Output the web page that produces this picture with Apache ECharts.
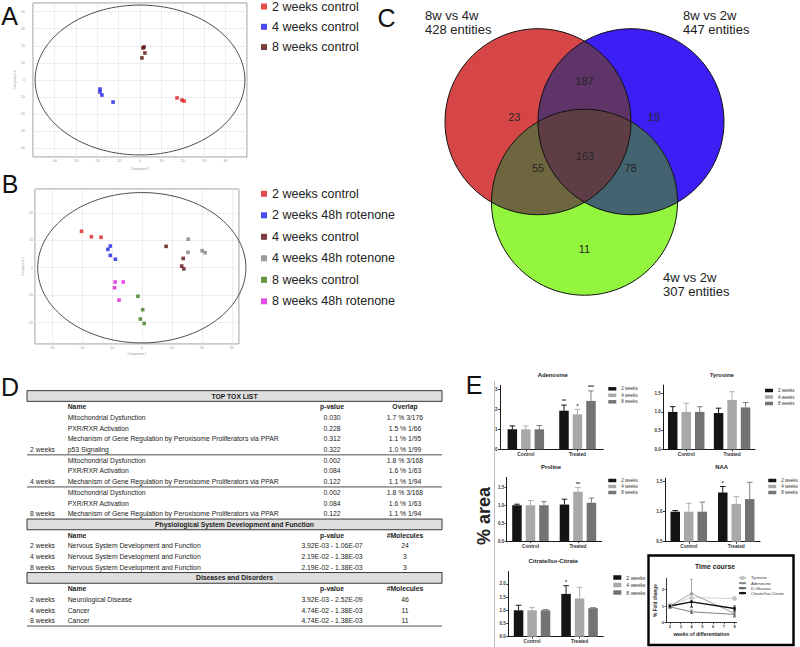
<!DOCTYPE html>
<html>
<head>
<meta charset="utf-8">
<script src="https://cdn.jsdelivr.net/npm/echarts@6/dist/echarts.min.js"></script>
<style>
html,body{margin:0;padding:0;background:#fff;}
#chart{width:800px;height:647px;}
</style>
</head>
<body>
<div id="chart"></div>
<script>
// ======================= DATA =======================
// Panel A – PCA, controls
const pcaA_groups = ['2 weeks control', '4 weeks control', '8 weeks control'];
const pcaA_2wControl = [[17.3, -10.5], [19.6, -11.7], [20.6, -12.3]];
const pcaA_4wControl = [[-18.7, -5.3], [-18.7, -7.0], [-17.8, -8.8], [-12.6, -12.9]];
const pcaA_8wControl = [[1.9, 19.3], [1.4, 18.7], [2.3, 15.8], [0.9, 12.9]];
const pcaA_ellipse = [[0, 0, 49, 43.8]];          // centre x, centre y, semi-axis x, semi-axis y

// Panel B – PCA, controls + rotenone
const pcaB_groups = ['2 weeks control', '2 weeks 48h rotenone', '4 weeks control',
                     '4 weeks 48h rotenone', '8 weeks control', '8 weeks 48h rotenone'];
const pcaB_2wControl  = [[-20.1, 13.3], [-16.8, 11.3], [-13.6, 11.1]];
const pcaB_2wRotenone = [[-10.5, 7.9], [-11.3, 6.7], [-10.5, 4.5], [-8.8, 3.1]];
const pcaB_4wControl  = [[8.1, 7.8], [13.8, 3.4], [13.3, 0.6], [14.0, -0.4]];
const pcaB_4wRotenone = [[15.5, 10.4], [15.4, 5.6], [20.1, 6.2], [21.1, 5.5]];
const pcaB_8wControl  = [[-1.3, -10.4], [0.3, -15.3], [-0.5, -18.7], [0.8, -20.3]];
const pcaB_8wRotenone = [[-8.9, -5.2], [-6.2, -5.2], [-9.1, -7.3], [-7.6, -11.8]];
const pcaB_ellipse = [[0, 0, 34.7, 27.4]];

// Panel C – Venn
const vennSetNames = ['8w vs 4w', '8w vs 2w', '4w vs 2w'];
const vennSetTotals = [428, 447, 307];
const vennRegions = ['A', 'B', 'C', 'AB', 'AC', 'BC', 'ABC'];
const vennCounts = [23, 19, 11, 187, 55, 78, 163];

// Panel D – tables
const toxGroups = ['2 weeks', '4 weeks', '8 weeks'];
const toxNames = [
  ['Mitochondrial Dysfunction', 'PXR/RXR Activation', 'Mechanism of Gene Regulation by Peroxisome Proliferators via PPAR', 'p53 Signaling'],
  ['Mitochondrial Dysfunction', 'PXR/RXR Activation', 'Mechanism of Gene Regulation by Peroxisome Proliferators via PPAR'],
  ['Mitochondrial Dysfunction', 'PXR/RXR Activation', 'Mechanism of Gene Regulation by Peroxisome Proliferators via PPAR']
];
const toxPValues = [['0.030', '0.228', '0.312', '0.322'], ['0.002', '0.084', '0.122'], ['0.002', '0.084', '0.122']];
const toxOverlap = [['1.7 % 3/176', '1.5 % 1/66', '1.1 % 1/95', '1.0 % 1/99'],
                    ['1.8 % 3/168', '1.6 % 1/63', '1.1 % 1/94'],
                    ['1.8 % 3/168', '1.6 % 1/63', '1.1 % 1/94']];
const physGroups = ['2 weeks', '4 weeks', '8 weeks'];
const physNames = ['Nervous System Development and Function', 'Nervous System Development and Function', 'Nervous System Development and Function'];
const physPValues = ['3.92E-03 - 1.06E-07', '2.19E-02 - 1.38E-03', '2.19E-02 - 1.38E-03'];
const physMolecules = ['24', '3', '3'];
const disGroups = ['2 weeks', '4 weeks', '8 weeks'];
const disNames = ['Neurological Disease', 'Cancer', 'Cancer'];
const disPValues = ['3.92E-03 - 2.52E-09', '4.74E-02 - 1.38E-03', '4.74E-02 - 1.38E-03'];
const disMolecules = ['46', '11', '11'];

// Panel E – bar charts (rows = 2 / 4 / 8 weeks, columns = Control / Treated)
const barCategories = ['Control', 'Treated'];
const barGroups = ['2 weeks', '4 weeks', '8 weeks'];
const adenosineMean = [[1.00, 1.93], [1.00, 1.75], [1.00, 2.42]];
const adenosineSem  = [[0.17, 0.28], [0.17, 0.25], [0.19, 0.50]];
const adenosineSig  = [['', '**'], ['', '*'], ['', '***']];
const adenosineTicks = [0, 1, 2, 3];
const tyrosineMean = [[1.00, 0.97], [1.00, 1.32], [1.00, 1.12]];
const tyrosineSem  = [[0.14, 0.13], [0.23, 0.22], [0.14, 0.13]];
const tyrosineSig  = [['', ''], ['', ''], ['', '']];
const tyrosineTicks = [0, 0.5, 1, 1.5];
const prolineMean = [[1.00, 1.02], [1.00, 1.38], [1.00, 1.07]];
const prolineSem  = [[0.03, 0.15], [0.13, 0.12], [0.10, 0.13]];
const prolineSig  = [['', ''], ['', '**'], ['', '']];
const prolineTicks = [0, 0.5, 1, 1.5];
const naaMean = [[1.00, 1.32], [1.00, 1.13], [1.00, 1.21]];
const naaSem  = [[0.02, 0.10], [0.14, 0.12], [0.16, 0.28]];
const naaSig  = [['', '*'], ['', ''], ['', '']];
const naaTicks = [0.5, 1, 1.5];
const citrateMean = [[1.00, 1.62], [1.00, 1.45], [1.00, 1.08]];
const citrateSem  = [[0.19, 0.31], [0.10, 0.42], [0.03, 0.02]];
const citrateSig  = [['', '*'], ['', ''], ['', '']];
const citrateTicks = [0, 0.5, 1, 1.5, 2];

// Time course
const tcWeeks = [2, 4, 8];
const tcWeekTicks = [2, 3, 4, 5, 6, 7, 8];
const tcFoldTicks = [0, 1, 2];
const tcSeriesNames = ['Tyrosine', 'Adenosine', 'D-Glucose', 'Citrate/Iso-Citrate'];
const tcTyrosine = [1.05, 1.50, 1.45];
const tcTyrosineErr = [0.08, 0.20, 0.10];
const tcAdenosine = [1.00, 1.75, 0.55];
const tcAdenosineErr = [0.10, 0.85, 0.20];
const tcGlucose = [0.95, 0.65, 0.50];
const tcGlucoseErr = [0.08, 0.10, 0.15];
const tcCitrate = [1.00, 1.25, 0.85];
const tcCitrateErr = [0.10, 0.30, 0.15];

// ======================= LAYOUT / STYLE =======================
const FONT = "'Liberation Sans', Arial, Helvetica, sans-serif";
const PCA_A_COLORS = ['#e01e1e', '#1e1ee6', '#5a0c0c'];
const PCA_B_COLORS = ['#e01e1e', '#1e1ee6', '#5a0c0c', '#808080', '#3e7a1e', '#e01ee0'];
const VENN_CENTERS = [[-0.5, 0], [0.5, 0], [0, -0.866]];
const VENN_R = 1;
const VENN_COLORS = ['#d64646', '#3b1ff5', '#94f53f', '#5f3469', '#6e663f', '#42636f', '#5e3d45'];
const VENN_LABEL_POS = [[-0.755, 0.054], [0.747, 0.054], [0, -1.37], [0, 0.44], [-0.5, -0.5], [0.495, -0.5], [0.005, -0.366]];
const BAR_COLORS = ['#141414', '#a8a8a8', '#737373'];
const BAR_W = 9.5, BAR_GAP = 0.42;
const TC_COLORS = ['#c4c4c4', '#8c8c8c', '#606060', '#111111'];
const TC_SYMBOLS = ['emptyCircle', 'circle', 'triangle', 'rect'];

// ======================= HELPERS =======================
function gtext(x, y, text, o) {
  o = o || {};
  const align = o.align || 'left', valign = o.valign || 'middle';
  return {
    type: 'text', x: x, y: y, rotation: o.rotation || 0, silent: true, z: 50,
    style: {
      text: text, fill: o.color || '#222', fontSize: o.size || 7,
      fontWeight: o.bold ? 'bold' : 'normal', fontFamily: FONT,
      align: align, verticalAlign: valign, textAlign: align, textVerticalAlign: valign
    }
  };
}
function gline(x1, y1, x2, y2, color, w) {
  return { type: 'line', silent: true, z: 50, shape: { x1: x1, y1: y1, x2: x2, y2: y2 },
           style: { stroke: color || '#000', lineWidth: w || 0.8 } };
}

function ellipseSeries(ax, data) {
  return {
    type: 'custom', xAxisIndex: ax, yAxisIndex: ax, data: data, silent: true, z: 1,
    renderItem: function (p, api) {
      const c = api.coord([api.value(0), api.value(1)]);
      const s = api.size([api.value(2), api.value(3)]);
      const pts = [];
      for (let i = 0; i < 160; i++) {
        const a = i / 160 * Math.PI * 2;
        pts.push([c[0] + s[0] * Math.cos(a), c[1] + s[1] * Math.sin(a)]);
      }
      return { type: 'polygon', shape: { points: pts }, style: { fill: 'none', stroke: '#3a3a3a', lineWidth: 0.9 } };
    }
  };
}
function pcaAxis(gridIndex, isX, min, max, extra) {
  return Object.assign({
    type: 'value', gridIndex: gridIndex, min: min, max: max,
    axisLine: { show: false }, axisTick: { show: false },
    splitLine: { show: true, lineStyle: { color: '#e2e2e2', width: 0.6 } },
    axisLabel: { fontSize: 3.5, color: '#999', margin: 2, showMinLabel: false, showMaxLabel: false },
    nameLocation: 'middle', nameTextStyle: { fontSize: 3.2, color: '#999' }
  }, extra || {});
}

// circle geometry for the Venn diagram (pixel space)
function circleInter(c1, c2, r) {
  const dx = c2[0] - c1[0], dy = c2[1] - c1[1];
  const d = Math.hypot(dx, dy), a = d / 2;
  const h = Math.sqrt(Math.max(r * r - a * a, 0));
  const mx = c1[0] + dx / 2, my = c1[1] + dy / 2, ux = -dy / d, uy = dx / d;
  return [[mx + h * ux, my + h * uy], [mx - h * ux, my - h * uy]];
}
function arcPts(c, r, p, q, n) {
  const a0 = Math.atan2(p[1] - c[1], p[0] - c[0]);
  let d = Math.atan2(q[1] - c[1], q[0] - c[0]) - a0;
  while (d > Math.PI) d -= 2 * Math.PI;
  while (d < -Math.PI) d += 2 * Math.PI;
  const pts = [];
  for (let i = 0; i <= n; i++) { const a = a0 + d * i / n; pts.push([c[0] + r * Math.cos(a), c[1] + r * Math.sin(a)]); }
  return pts;
}
function innerPoint(ca, cb, cc, r) {
  const ps = circleInter(ca, cb, r);
  const d0 = Math.hypot(ps[0][0] - cc[0], ps[0][1] - cc[1]);
  const d1 = Math.hypot(ps[1][0] - cc[0], ps[1][1] - cc[1]);
  return d0 < d1 ? ps[0] : ps[1];
}

// ======================= OPTION PARTS =======================
const grids = [], xAxes = [], yAxes = [], series = [], legends = [], graphics = [];
function addGrid(g) { grids.push(Object.assign({ containLabel: false, outerBoundsMode: 'none' }, g)); return grids.length - 1; }

// ---------- Panel A ----------
const gA = addGrid({ left: 33, top: 3, width: 214, height: 154, show: true, borderColor: '#777', borderWidth: 0.8 });
xAxes.push(pcaAxis(gA, true, -50, 50, { interval: 10, name: 'Component 1', nameGap: 10 }));
yAxes.push(pcaAxis(gA, false, -45, 45, { splitNumber: 9, name: 'Component 2', nameGap: 8, axisLabel: { fontSize: 3.5, color: '#999', margin: 8, showMinLabel: false, showMaxLabel: false } }));
series.push(ellipseSeries(gA, pcaA_ellipse));
[pcaA_2wControl, pcaA_4wControl, pcaA_8wControl].forEach(function (d, i) {
  series.push({ type: 'scatter', name: pcaA_groups[i], xAxisIndex: gA, yAxisIndex: gA, data: d,
    symbol: 'rect', symbolSize: 3.6, itemStyle: { color: PCA_A_COLORS[i] }, z: 3 });
});
legends.push({ orient: 'vertical', left: 261, top: 0, itemWidth: 6, itemHeight: 6, itemGap: 7.3, padding: 0,
  selectedMode: false, icon: 'rect', textStyle: { fontSize: 12.5, lineHeight: 12, color: '#222', fontFamily: FONT },
  data: pcaA_groups.map(function (n, i) { return { name: n, icon: 'rect', itemStyle: { color: PCA_A_COLORS[i] } }; }) });

// ---------- Panel B ----------
const gB = addGrid({ left: 35, top: 189, width: 204, height: 155, show: true, borderColor: '#777', borderWidth: 0.8 });
xAxes.push(pcaAxis(gB, true, -35.6, 32.4, { splitNumber: 7, name: 'Component 1', nameGap: 8 }));
yAxes.push(pcaAxis(gB, false, -27.8, 28.7, { splitNumber: 5, name: 'Component 2', nameGap: 9 }));
series.push(ellipseSeries(gB, pcaB_ellipse));
[pcaB_2wControl, pcaB_2wRotenone, pcaB_4wControl, pcaB_4wRotenone, pcaB_8wControl, pcaB_8wRotenone].forEach(function (d, i) {
  series.push({ type: 'scatter', name: pcaB_groups[i], xAxisIndex: gB, yAxisIndex: gB, data: d,
    symbol: 'rect', symbolSize: 3.6, itemStyle: { color: PCA_B_COLORS[i] }, z: 3 });
});
legends.push({ orient: 'vertical', left: 261, top: 187.3, itemWidth: 6, itemHeight: 6, itemGap: 8.5, padding: 0,
  selectedMode: false, icon: 'rect', textStyle: { fontSize: 12.5, lineHeight: 12, color: '#222', fontFamily: FONT },
  data: pcaB_groups.map(function (n, i) { return { name: n, icon: 'rect', itemStyle: { color: PCA_B_COLORS[i] } }; }) });

// ---------- Panel C (Venn) ----------
const gC = addGrid({ left: 445, top: 10.1, width: 279, height: 297.6 });
xAxes.push({ type: 'value', gridIndex: gC, min: -1.5, max: 1.5, show: false });
yAxes.push({ type: 'value', gridIndex: gC, min: -2, max: 1.2, show: false });
series.push({
  type: 'custom', xAxisIndex: gC, yAxisIndex: gC, silent: true, z: 2,
  data: vennCounts.map(function (v, i) { return [i, v]; }),
  renderItem: function (p, api) {
    const idx = p.dataIndex;
    const cs = VENN_CENTERS.map(function (c) { return api.coord(c); });
    const r = api.size([VENN_R, 0])[0];
    const key = vennRegions[idx];
    let shape;
    if (key.length === 1) {
      const c = cs[idx];
      shape = { type: 'circle', shape: { cx: c[0], cy: c[1], r: r }, style: { fill: VENN_COLORS[idx] } };
    } else if (key.length === 2) {
      const i = 'ABC'.indexOf(key[0]), j = 'ABC'.indexOf(key[1]);
      const pq = circleInter(cs[i], cs[j], r);
      const pts = arcPts(cs[i], r, pq[0], pq[1], 48).concat(arcPts(cs[j], r, pq[1], pq[0], 48));
      shape = { type: 'polygon', shape: { points: pts }, style: { fill: VENN_COLORS[idx] } };
    } else {
      const vab = innerPoint(cs[0], cs[1], cs[2], r);
      const vac = innerPoint(cs[0], cs[2], cs[1], r);
      const vbc = innerPoint(cs[1], cs[2], cs[0], r);
      const pts = arcPts(cs[0], r, vab, vac, 32).concat(arcPts(cs[2], r, vac, vbc, 32), arcPts(cs[1], r, vbc, vab, 32));
      shape = { type: 'polygon', shape: { points: pts }, style: { fill: VENN_COLORS[idx] } };
    }
    const lp = api.coord(VENN_LABEL_POS[idx]);
    return { type: 'group', children: [shape,
      { type: 'text', z2: 10, x: lp[0], y: lp[1], style: { text: String(api.value(1)), fill: '#262626', fontSize: 11, fontFamily: FONT, align: 'center', verticalAlign: 'middle' } }] };
  }
});
series.push({
  type: 'custom', xAxisIndex: gC, yAxisIndex: gC, silent: true, z: 3,
  data: VENN_CENTERS,
  renderItem: function (p, api) {
    const c = api.coord([api.value(0), api.value(1)]);
    const r = api.size([VENN_R, 0])[0];
    return { type: 'circle', shape: { cx: c[0], cy: c[1], r: r }, style: { fill: 'none', stroke: '#111', lineWidth: 1 } };
  }
});
// set labels
const VENN_SET_LABEL_POS = [[425, 15], [683, 15], [663, 277]];
vennSetNames.forEach(function (n, i) {
  const p = VENN_SET_LABEL_POS[i];
  graphics.push(gtext(p[0], p[1], n, { size: 13, color: '#222' }));
  graphics.push(gtext(p[0], p[1] + 14, vennSetTotals[i] + ' entities', { size: 13, color: '#222' }));
});

// ---------- Panel E bar charts ----------
const BAR_PANELS = [
  { title: 'Adenosine', mean: adenosineMean, sem: adenosineSem, sig: adenosineSig, ticks: adenosineTicks, dec: 0,
    grid: { left: 500, top: 385.3, width: 103.3, height: 64 }, yMin: 0, yMax: 3.2, titlePos: [552.7, 375],
    legend: { left: 608.3, top: 386.3, gap: 1.5, h: 3.5, fs: 4.5, lh: 4 } },
  { title: 'Tyrosine', mean: tyrosineMean, sem: tyrosineSem, sig: tyrosineSig, ticks: tyrosineTicks, dec: 1,
    grid: { left: 663.3, top: 385, width: 91.7, height: 64.3 }, yMin: 0, yMax: 1.72, titlePos: [721.7, 375],
    legend: { left: 765, top: 388, gap: 1.5, h: 3.5, fs: 4.5, lh: 4 } },
  { title: 'Proline', mean: prolineMean, sem: prolineSem, sig: prolineSig, ticks: prolineTicks, dec: 1,
    grid: { left: 506.7, top: 477.4, width: 95, height: 63.6 }, yMin: 0, yMax: 1.78, titlePos: [551, 467.3],
    legend: { left: 608.3, top: 478, gap: 1, h: 3.5, fs: 4.5, lh: 4 } },
  { title: 'NAA', mean: naaMean, sem: naaSem, sig: naaSig, ticks: naaTicks, dec: 1,
    grid: { left: 665, top: 478.1, width: 95, height: 63.6 }, yMin: 0.5, yMax: 1.56, titlePos: [721.7, 466.7],
    legend: { left: 768.3, top: 478, gap: 1, h: 3.5, fs: 4.5, lh: 4 } },
  { title: 'Citrate/Iso-Citrate', mean: citrateMean, sem: citrateSem, sig: citrateSig, ticks: citrateTicks, dec: 1,
    grid: { left: 508.3, top: 571.7, width: 95, height: 65 }, yMin: 0, yMax: 2.46, titlePos: [553.3, 561],
    legend: { left: 613.3, top: 575, gap: 2.5, h: 4.5, fs: 5.2, lh: 5 } }
];
BAR_PANELS.forEach(function (P) {
  const g = addGrid(P.grid);
  xAxes.push({ type: 'category', gridIndex: g, data: barCategories,
    axisLine: { show: true, lineStyle: { color: '#000', width: 0.9 } },
    axisTick: { show: true, alignWithLabel: true, length: 2, lineStyle: { color: '#000', width: 0.8 } },
    axisLabel: { fontSize: 4.8, fontWeight: 'bold', color: '#333', margin: 2.5 } });
  yAxes.push({ type: 'value', gridIndex: g, min: P.yMin, max: P.yMax,
    axisLine: { show: true, lineStyle: { color: '#000', width: 0.9 } },
    axisTick: { show: true, length: 2, customValues: P.ticks, lineStyle: { color: '#000', width: 0.8 } },
    axisLabel: { fontSize: 4.5, fontWeight: 'bold', color: '#333', margin: 2.5, customValues: P.ticks,
      formatter: function (v) { return Number(v).toFixed(P.dec); } },
    splitLine: { show: false } });
  const errRows = [];
  barGroups.forEach(function (name, k) {
    series.push({ type: 'bar', name: name, xAxisIndex: g, yAxisIndex: g, data: P.mean[k],
      barWidth: BAR_W, barGap: (BAR_GAP * 100) + '%', itemStyle: { color: BAR_COLORS[k] }, z: 2 });
    P.mean[k].forEach(function (m, ci) { errRows.push({ value: [ci, m, P.sem[k][ci], k], sig: P.sig[k][ci] }); });
  });
  series.push({ type: 'custom', xAxisIndex: g, yAxisIndex: g, silent: true, z: 4,
    data: errRows.map(function (r) { return r.value; }),
    renderItem: function (p, api) {
      const ci = api.value(0), m = api.value(1), e = api.value(2), k = api.value(3);
      const base = api.coord([ci, m]), top = api.coord([ci, m + e]);
      const x = base[0] + (k - 1) * BAR_W * (1 + BAR_GAP);
      const col = k === 0 ? '#000' : BAR_COLORS[k];
      const ch = [
        { type: 'line', shape: { x1: x, y1: base[1], x2: x, y2: top[1] }, style: { stroke: col, lineWidth: 0.9 } },
        { type: 'line', shape: { x1: x - 2.8, y1: top[1], x2: x + 2.8, y2: top[1] }, style: { stroke: col, lineWidth: 0.9 } }
      ];
      const s = errRows[p.dataIndex].sig;
      if (s) ch.push({ type: 'text', x: x, y: top[1] - 1.2, style: { text: s, fill: '#222', fontSize: 5, fontWeight: 'bold', fontFamily: FONT, align: 'center', verticalAlign: 'bottom' } });
      return { type: 'group', children: ch };
    } });
  legends.push({ orient: 'vertical', left: P.legend.left, top: P.legend.top, itemWidth: 8, itemHeight: P.legend.h,
    itemGap: P.legend.gap, padding: 0, selectedMode: false, icon: 'rect',
    textStyle: { fontSize: P.legend.fs, lineHeight: P.legend.lh, color: '#333', fontFamily: FONT },
    data: barGroups.slice() });
  graphics.push(gtext(P.titlePos[0], P.titlePos[1], P.title, { size: 5.9, bold: true, align: 'center', color: '#222' }));
});

// ---------- Time course ----------
const gT = addGrid({ left: 666, top: 578.3, width: 70.7, height: 44.4 });
xAxes.push({ type: 'value', gridIndex: gT, min: 1.63, max: 8.2,
  axisLine: { show: true, lineStyle: { color: '#000', width: 0.8 } },
  axisTick: { show: true, length: 1.6, customValues: tcWeekTicks, lineStyle: { color: '#000', width: 0.6 } },
  axisLabel: { fontSize: 4, fontWeight: 'bold', color: '#333', margin: 2, customValues: tcWeekTicks },
  splitLine: { show: false },
  name: 'weeks of differentiation', nameLocation: 'middle', nameGap: 8.5,
  nameTextStyle: { fontSize: 5, fontWeight: 'bold', color: '#222' } });
yAxes.push({ type: 'value', gridIndex: gT, min: 0, max: 2.66,
  axisLine: { show: true, lineStyle: { color: '#000', width: 0.8 } },
  axisTick: { show: true, length: 1.6, customValues: tcFoldTicks, lineStyle: { color: '#000', width: 0.6 } },
  axisLabel: { fontSize: 4, fontWeight: 'bold', color: '#333', margin: 2, customValues: tcFoldTicks },
  splitLine: { show: false },
  name: '% Fold change', nameLocation: 'middle', nameRotate: 90, nameGap: 6,
  nameTextStyle: { fontSize: 4.6, fontWeight: 'bold', color: '#222' } });
const tcVals = [tcTyrosine, tcAdenosine, tcGlucose, tcCitrate];
const tcErrs = [tcTyrosineErr, tcAdenosineErr, tcGlucoseErr, tcCitrateErr];
tcSeriesNames.forEach(function (name, s) {
  series.push({ type: 'line', name: name, xAxisIndex: gT, yAxisIndex: gT,
    data: tcWeeks.map(function (w, i) { return [w, tcVals[s][i]]; }),
    symbol: TC_SYMBOLS[s], symbolSize: 2.6, showSymbol: true,
    lineStyle: { color: TC_COLORS[s], width: s === 3 ? 1.3 : 0.8 }, itemStyle: { color: TC_COLORS[s] }, z: 3 });
  series.push({ type: 'custom', xAxisIndex: gT, yAxisIndex: gT, silent: true, z: 2,
    data: tcWeeks.map(function (w, i) { return [w, tcVals[s][i], tcErrs[s][i]]; }),
    renderItem: function (p, api) {
      const w = api.value(0), v = api.value(1), e = api.value(2);
      const hi = api.coord([w, v + e]), lo = api.coord([w, Math.max(v - e, 0)]);
      const st = { stroke: TC_COLORS[s], lineWidth: 0.7 };
      return { type: 'group', children: [
        { type: 'line', shape: { x1: hi[0], y1: hi[1], x2: lo[0], y2: lo[1] }, style: st },
        { type: 'line', shape: { x1: hi[0] - 1.5, y1: hi[1], x2: hi[0] + 1.5, y2: hi[1] }, style: st },
        { type: 'line', shape: { x1: lo[0] - 1.5, y1: lo[1], x2: lo[0] + 1.5, y2: lo[1] }, style: st }] };
    } });
});
legends.push({ orient: 'vertical', left: 738, top: 575.7, itemWidth: 7, itemHeight: 3, itemGap: 1, padding: 0,
  selectedMode: false, textStyle: { fontSize: 4.2, lineHeight: 4, color: '#333', fontFamily: FONT },
  data: tcSeriesNames.slice() });
graphics.push({ type: 'rect', silent: true, z: 50, shape: { x: 648.5, y: 555.5, width: 145, height: 89.5 },
  style: { fill: 'none', stroke: '#000', lineWidth: 2.4 } });
graphics.push(gtext(715, 566, 'Time course', { size: 6.8, bold: true, align: 'center', color: '#222' }));

// ---------- Panel D table ----------
const TBL = { left: 27, right: 442, groupX: 55, nameX: 67.7, pX: 332, ovX: 405, y0: 396, step: 10.7, fs: 6.8 };
(function () {
  const rowY = function (i) { return TBL.y0 + TBL.step * i; };
  const t = function (x, i, s, align, bold) { graphics.push(gtext(x, rowY(i), s, { size: TBL.fs, align: align, bold: bold, color: '#1c1c1c' })); };
  const box = function (i, title) {
    graphics.push({ type: 'rect', silent: true, z: 49, shape: { x: TBL.left, y: rowY(i) - TBL.step / 2, width: TBL.right - TBL.left, height: TBL.step },
      style: { fill: '#dedede', stroke: '#222', lineWidth: 0.9 } });
    t((TBL.left + TBL.right) / 2, i, title, 'center', true);
  };
  const header = function (i, c3) { t(TBL.nameX, i, 'Name', 'left', true); t(TBL.pX, i, 'p-value', 'center', true); t(TBL.ovX, i, c3, 'center', true); };
  const hl = function (i) { graphics.push(gline(TBL.left, rowY(i), TBL.right, rowY(i), '#222', 0.8)); };
  box(0, 'TOP TOX LIST');
  header(1, 'Overlap');
  let row = 2;
  toxGroups.forEach(function (g, gi) {
    toxNames[gi].forEach(function (n, ri) {
      t(TBL.nameX, row, n, 'left');
      t(TBL.pX, row, toxPValues[gi][ri], 'center');
      t(TBL.ovX, row, toxOverlap[gi][ri], 'center');
      if (ri === toxNames[gi].length - 1) t(TBL.groupX, row, g, 'right');
      row++;
    });
    if (gi < toxGroups.length - 1) hl(row - 0.5);
  });
  box(row, 'Physiological System Development and Function'); row++;
  header(row, '#Molecules'); row++;
  physGroups.forEach(function (g, i) {
    t(TBL.groupX, row, g, 'right'); t(TBL.nameX, row, physNames[i], 'left');
    t(TBL.pX, row, physPValues[i], 'center'); t(TBL.ovX, row, physMolecules[i], 'center'); row++;
  });
  box(row, 'Diseases and Disorders'); row++;
  header(row, '#Molecules'); row++;
  disGroups.forEach(function (g, i) {
    t(TBL.groupX, row, g, 'right'); t(TBL.nameX, row, disNames[i], 'left');
    t(TBL.pX, row, disPValues[i], 'center'); t(TBL.ovX, row, disMolecules[i], 'center'); row++;
  });
  hl(row - 0.5);
})();

// ---------- panel letters & misc ----------
[['A', 9.5, 16], ['B', 10, 183.5], ['C', 386.5, 17.5], ['D', 10, 386.5], ['E', 474, 385]].forEach(function (L) {
  graphics.push(gtext(L[1], L[2], L[0], { size: 25, align: 'center', color: '#111' }));
});
graphics.push(gtext(484, 516, '% area', { size: 18, bold: true, align: 'center', rotation: Math.PI / 2, color: '#222' }));
graphics.push(gline(494.5, 381, 494.5, 647, '#b5b5b5', 0.9));

// ======================= CHART =======================
const chart = echarts.init(document.getElementById('chart'), null, { renderer: 'svg', width: 800, height: 647 });
chart.setOption({
  animation: false,
  backgroundColor: '#ffffff',
  textStyle: { fontFamily: FONT },
  grid: grids,
  xAxis: xAxes,
  yAxis: yAxes,
  legend: legends,
  series: series,
  graphic: { elements: graphics }
});
</script>
</body>
</html>
